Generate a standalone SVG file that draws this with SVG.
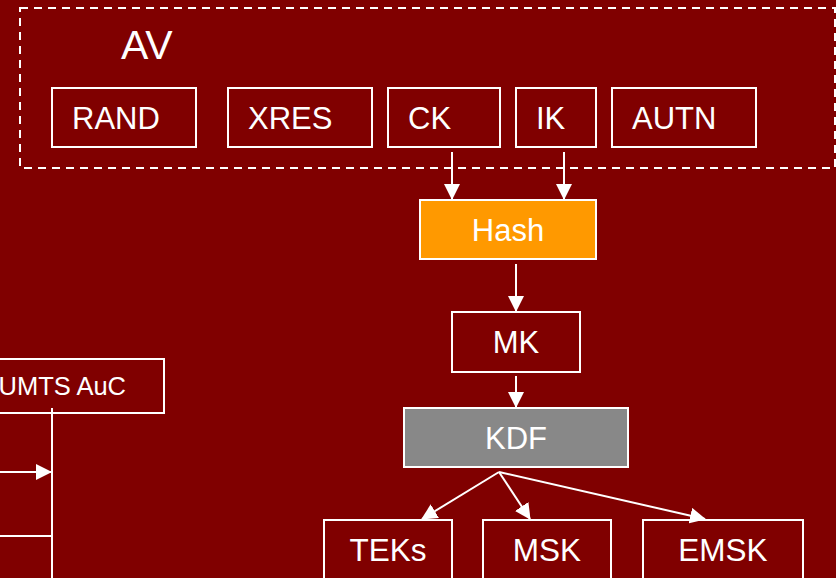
<svg xmlns="http://www.w3.org/2000/svg" width="836" height="578" viewBox="0 0 836 578">
<style>
.box{fill:none;stroke:#fff;stroke-width:2}
.t{font-family:"Liberation Sans",Arial,sans-serif;fill:#fff}
.c{stroke:#fff;stroke-width:2;fill:none}
</style>
<defs>
<marker id="ah" markerWidth="16" markerHeight="16" refX="15" refY="8" orient="auto" markerUnits="userSpaceOnUse">
<path d="M0,0 L16,8 L0,16 Z" fill="#fff"/>
</marker>
</defs>
<rect width="836" height="578" fill="#800000"/>
<g id="AV">
<rect x="20" y="8" width="815" height="160" fill="none" stroke="#fff" stroke-width="2" stroke-dasharray="8,6"/>
<text class="t" x="121" y="59" font-size="41">AV</text>
</g>
<g id="RAND"><rect class="box" x="52" y="88" width="144" height="59"/><text class="t" x="72" y="129" font-size="31">RAND</text></g>
<g id="XRES"><rect class="box" x="228" y="88" width="144" height="59"/><text class="t" x="248" y="129" font-size="31">XRES</text></g>
<g id="CK"><rect class="box" x="388" y="88" width="112" height="59"/><text class="t" x="408" y="129" font-size="31">CK</text></g>
<g id="IK"><rect class="box" x="516" y="88" width="80" height="59"/><text class="t" x="536" y="129" font-size="31">IK</text></g>
<g id="AUTN"><rect class="box" x="612" y="88" width="144" height="59"/><text class="t" x="632" y="129" font-size="31">AUTN</text></g>
<g id="Hash"><rect x="420" y="200" width="176" height="59" fill="#ff9900" stroke="#fff" stroke-width="2"/><text class="t" x="508" y="241" font-size="31" text-anchor="middle">Hash</text></g>
<g id="MK"><rect class="box" x="452" y="312" width="128" height="60"/><text class="t" x="516" y="353" font-size="31" text-anchor="middle">MK</text></g>
<g id="KDF"><rect x="404" y="408" width="224" height="59" fill="#888888" stroke="#fff" stroke-width="2"/><text class="t" x="516" y="449" font-size="31" text-anchor="middle">KDF</text></g>
<g id="TEKs"><rect class="box" x="324" y="520" width="128" height="70"/><text class="t" x="388" y="561" font-size="31.5" text-anchor="middle">TEKs</text></g>
<g id="MSK"><rect class="box" x="483" y="520" width="128" height="70"/><text class="t" x="547" y="561" font-size="31.5" text-anchor="middle">MSK</text></g>
<g id="EMSK"><rect class="box" x="643" y="520" width="160" height="70"/><text class="t" x="723" y="561" font-size="31.5" text-anchor="middle">EMSK</text></g>
<g id="UMTS_AuC"><rect class="box" x="-10" y="359" width="174" height="54"/><text class="t" x="126" y="395" font-size="25.5" text-anchor="end">UMTS AuC</text></g>
<g id="connectors">
<line class="c" x1="452" y1="152" x2="452" y2="199" marker-end="url(#ah)"/>
<line class="c" x1="564" y1="152" x2="564" y2="199" marker-end="url(#ah)"/>
<line class="c" x1="516" y1="264" x2="516" y2="311" marker-end="url(#ah)"/>
<line class="c" x1="516" y1="376" x2="516" y2="407" marker-end="url(#ah)"/>
<line class="c" x1="499" y1="472" x2="422" y2="519" marker-end="url(#ah)"/>
<line class="c" x1="499" y1="472" x2="530" y2="519" marker-end="url(#ah)"/>
<line class="c" x1="499" y1="472" x2="705" y2="519" marker-end="url(#ah)"/>
<line class="c" x1="52" y1="408" x2="52" y2="578"/>
<line class="c" x1="0" y1="472" x2="51" y2="472" marker-end="url(#ah)"/>
<line class="c" x1="0" y1="536" x2="52" y2="536"/>
</g>
</svg>
